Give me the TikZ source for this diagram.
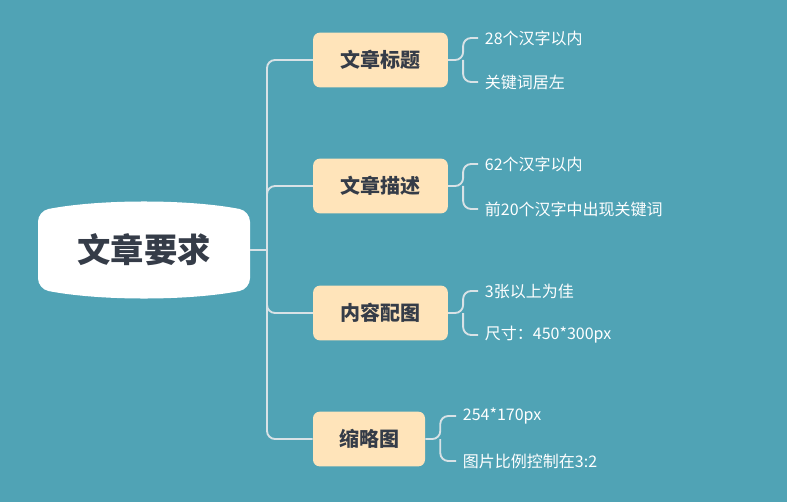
\documentclass[tikz,border=0pt]{standalone}
\usepackage{fontspec}
\newfontfamily\cjk{Noto Sans CJK SC}
\definecolor{bgteal}{HTML}{50A3B5}
\definecolor{topicfill}{HTML}{FFE4BA}
\definecolor{inkdark}{HTML}{353C48}
\definecolor{linegrey}{HTML}{D8E2E6}
\begin{document}
\begin{tikzpicture}[x=0.75pt, y=-0.75pt,
            topic/.style={fill=topicfill, rounded corners=5pt, minimum height=41pt, inner xsep=0pt, align=center, font=\cjk\bfseries\fontsize{15}{18}\selectfont, text=inkdark},
            leaf/.style={anchor=west, inner sep=5pt, text=white, font=\cjk\fontsize{12}{14}\selectfont},
            link/.style={linegrey, line width=1.4pt, rounded corners=6pt}]

            % 背景
            \fill[bgteal] (0,0) rectangle (787,502);
            \useasboundingbox (0,0) rectangle (787,502);

            % 中心主题
            \fill[white, rounded corners=8pt] (38,211) .. controls (100,199) and (188,199) .. (250,211) -- (250,289) .. controls (188,301) and (100,301) .. (38,289) -- cycle;
            \node[font=\cjk\bfseries\fontsize{25}{30}\selectfont, text=inkdark] (root) at (144,250) {文章要求};
            \coordinate (rootR) at (250,250);
            \coordinate (trunk) at (267,250);

            % 分支主题
            \node[topic, minimum width=101pt] (t1) at (380.5,60) {文章标题};
            \node[topic, minimum width=101pt] (t2) at (380.5,186) {文章描述};
            \node[topic, minimum width=101pt] (t3) at (380.5,313) {内容配图};
            \node[topic, minimum width=84pt] (t4) at (369,439) {缩略图};

            % 子主题
            \node[leaf] (l1a) at (478,38) {28个汉字以内};
            \node[leaf] (l1b) at (478,82) {关键词居左};
            \node[leaf] (l2a) at (478,164) {62个汉字以内};
            \node[leaf] (l2b) at (478,209) {前20个汉字中出现关键词};
            \node[leaf] (l3a) at (478,291) {3张以上为佳};
            \node[leaf] (l3b) at (478,335) {尺寸：450*300px};
            \node[leaf] (l4a) at (456,416) {254*170px};
            \node[leaf] (l4b) at (456,461) {图片比例控制在3:2};

            % 连接
            \draw[link] (rootR) -- (trunk);
            \foreach \t in {t1,t2,t3,t4}
                \draw[link] (trunk) |- (\t.west);
            \foreach \t/\a/\b in {t1/l1a/l1b, t2/l2a/l2b, t3/l3a/l3b, t4/l4a/l4b} {
                \draw[link] (\t.east) -- ++(15,0) coordinate (\t fork) |- (\a.west);
                \draw[link] (\t fork) |- (\b.west);
            }
        \end{tikzpicture}
\end{document}
